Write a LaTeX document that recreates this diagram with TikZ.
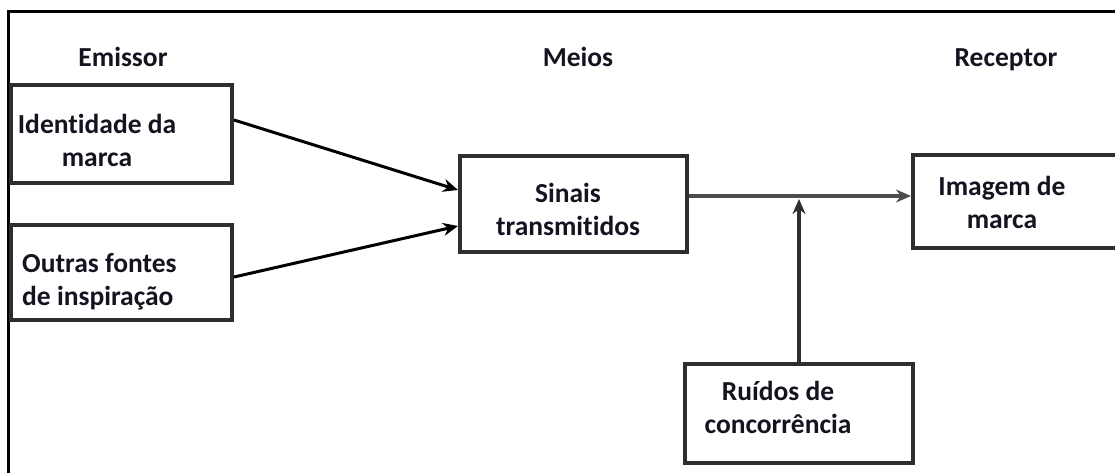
\documentclass[tikz,border=0pt]{standalone}
\usepackage{fontspec}
\setmainfont{Carlito}[Ligatures={NoCommon}]
\usetikzlibrary{calc,arrows.meta}
\definecolor{boxline}{HTML}{2E2E2E}
\definecolor{txt}{HTML}{141420}
\begin{document}
\begin{tikzpicture}[x=1pt,y=-1pt,
  every node/.style={font=\fontsize{27.5}{33}\selectfont\bfseries, text=txt, inner sep=0pt},
  blk/.style={draw=boxline, line width=4pt, rectangle, fill=white},
  hdr/.style={anchor=base},
  lbl/.style={anchor=north, align=center},
  conn/.style={draw=black, line width=3pt, -{Stealth[length=15pt,width=13pt]}},
  frame/.style={draw=black, line width=3pt}
]
\useasboundingbox (0,0) rectangle (1115,473);
\fill[white] (0,0) rectangle (1115,473);
% outer frame
\draw[frame] (1140,12) -- (8,12) -- (8,500);
% headers
\node[hdr] (hE) at (123,67) {Emissor};
\node[hdr] (hM) at (578,67) {Meios};
\node[hdr] (hR) at (1006,67) {Receptor};
% boxes
\node[blk, minimum width=221pt, minimum height=98pt] (b1) at (121.5,134) {};
\node[blk, minimum width=221pt, minimum height=95pt] (b2) at (121.5,272.5) {};
\node[blk, minimum width=227pt, minimum height=96pt] (s) at (573.5,204) {};
\node[blk, minimum width=217pt, minimum height=93pt] (im) at (1021.5,201.5) {};
\node[blk, minimum width=228pt, minimum height=99pt] (r) at (799,413.5) {};
% texts
\node[lbl] (t1) at (97,114) {Identidade da\\marca};
\node[anchor=north west, align=left] (t2) at (22,253) {Outras fontes\\de inspiração};
\node[lbl] (t3) at (568,183) {Sinais\\transmitidos};
\node[lbl] (t4) at (1002,176) {Imagem de\\marca};
\node[lbl] (t5) at (778,381) {Ruídos de\\concorrência};
% connectors
\coordinate (m) at ($(s.north east)+(0,42)$);
\draw[conn] ($(b1.north east)+(0,37)$) -- ($(s.north west)+(0,36)$);
\draw[conn] ($(b2.north east)+(0,54)$) -- ($(s.north west)+(0,72)$);
\draw[conn, draw=black!70, line width=4pt] (m) -- (m -| im.west);
\draw[conn, draw=boxline, line width=4.5pt] (r.north) -- ($(r.north |- m)+(0,3)$);
\end{tikzpicture}
\end{document}
